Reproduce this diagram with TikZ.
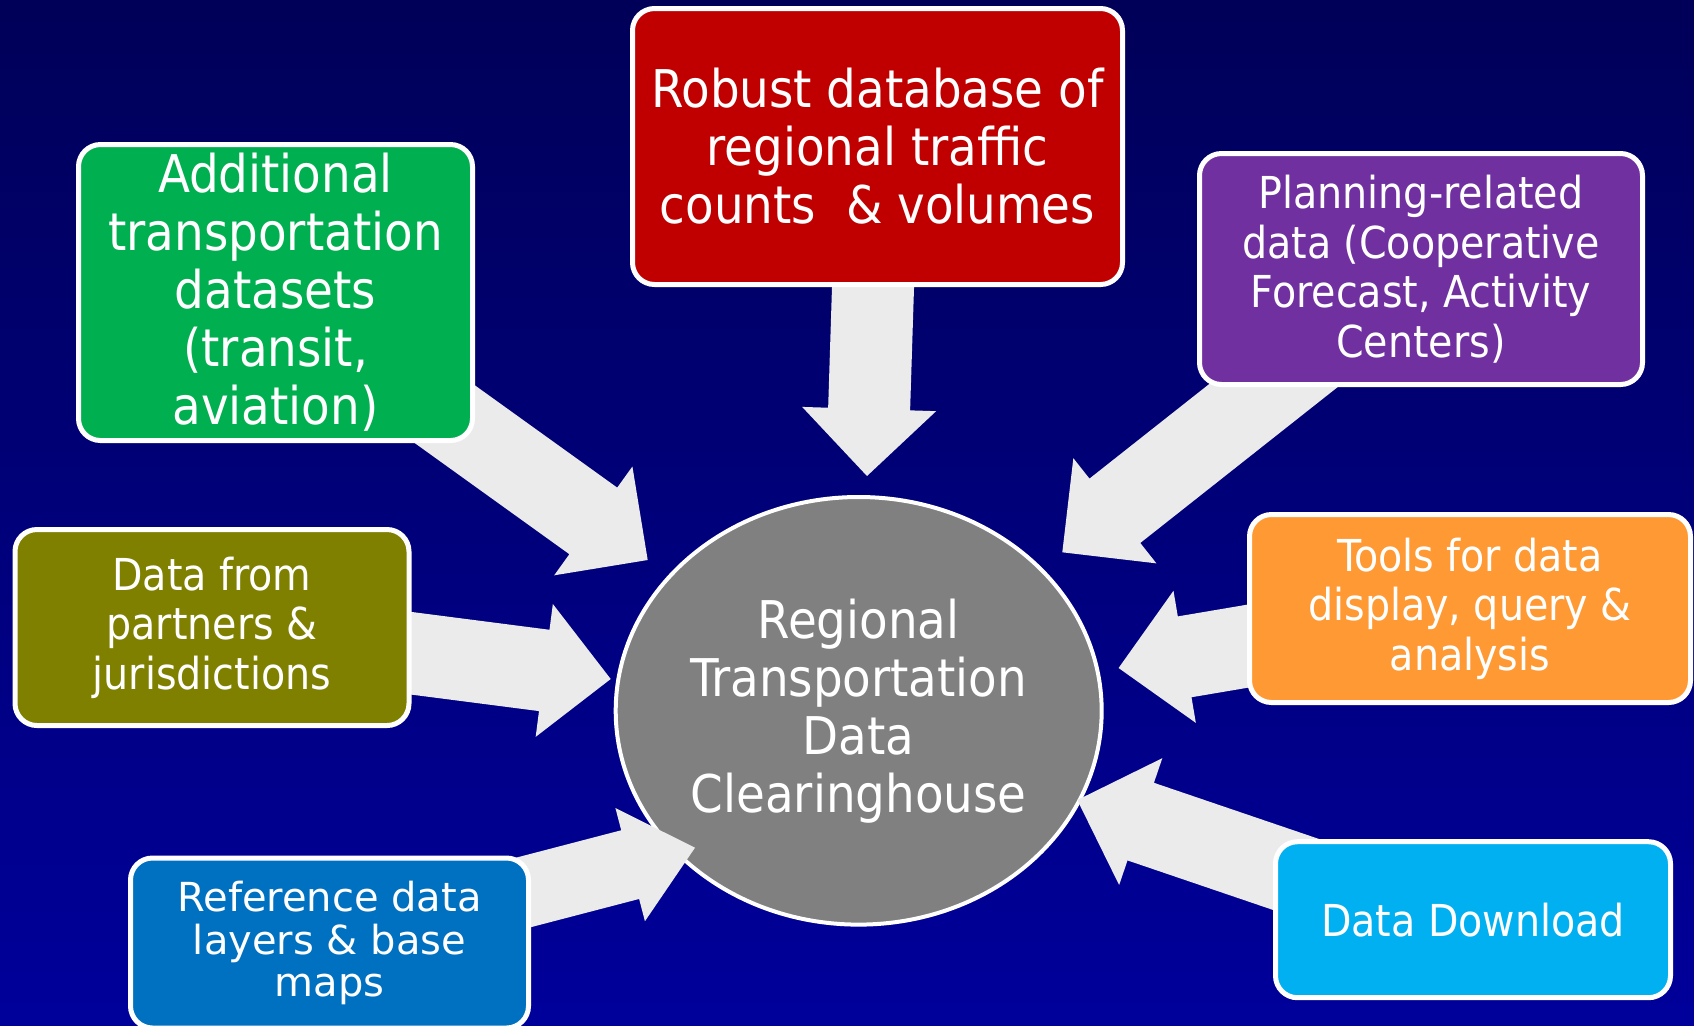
\documentclass[tikz,border=0pt]{standalone}
\usepackage{fontspec}
\setmainfont{DejaVu Sans Condensed}
\newfontfamily\wideface{DejaVu Sans}
\usepackage{tikz}
\usetikzlibrary{calc,shapes.geometric}
\usepackage{xcolor}
\definecolor{bgtop}{RGB}{0,0,88}
\definecolor{bgbot}{RGB}{0,0,155}
\definecolor{arrowgray}{RGB}{235,235,235}
\definecolor{hubgray}{RGB}{128,128,128}
\definecolor{trafficred}{RGB}{192,0,0}
\definecolor{transitgreen}{RGB}{0,176,80}
\definecolor{planpurple}{RGB}{112,48,160}
\definecolor{partnerolive}{RGB}{128,128,0}
\definecolor{toolsorange}{RGB}{255,153,51}
\definecolor{refblue}{RGB}{0,112,192}
\definecolor{downloadcyan}{RGB}{0,176,240}

\pgfdeclarelayer{back}
\pgfdeclarelayer{arrows}
\pgfsetlayers{back,arrows,main}

% block arrow: start, tip, half shaft width, half head width
\newcommand{\blockarrow}[4]{%
  \coordinate (ba-s) at (#1);
  \coordinate (ba-t) at (#2);
  \coordinate (ba-b) at ($(ba-t)!33.5pt!(ba-s)$);
  \fill[arrowgray] ($(ba-s)!#3!90:(ba-t)$) -- ($(ba-b)!#3!-90:(ba-s)$)
    -- ($(ba-b)!#4!-90:(ba-s)$) -- (ba-t) -- ($(ba-b)!#4!90:(ba-s)$)
    -- ($(ba-b)!#3!90:(ba-s)$) -- ($(ba-s)!#3!-90:(ba-t)$) -- cycle;
}

\begin{document}
\begin{tikzpicture}[x=0.5pt,y=-0.5pt,
    box/.style={draw=white, line width=2.5pt, rounded corners=11pt, text=white, align=center, inner sep=0pt},
    bigtext/.style={font=\fontsize{26pt}{29pt}\selectfont},
    midtext/.style={font=\fontsize{22pt}{24.75pt}\selectfont}]
    \useasboundingbox (0,0) rectangle (1694,1025);

    \begin{pgfonlayer}{back}
        \shade[top color=bgtop, bottom color=bgbot] (0,0) rectangle (1694,1025);
        \node[ellipse, draw=white, line width=2pt, fill=hubgray, text=white, align=center, bigtext,
            inner sep=0pt, minimum width=243pt, minimum height=213.8pt] (hub) at (858.7,710.8)
            {Regional\\Transportation\\Data\\Clearinghouse};
    \end{pgfonlayer}

    % boxes round the hub
    \node[box, bigtext, fill=trafficred, minimum width=245pt, minimum height=138pt] (trafficbox) at (877.5,146.5)
        {Robust database of\\regional traffic\\counts\ \ \& volumes};
    \node[box, bigtext, fill=transitgreen, minimum width=197pt, minimum height=148pt] (transitbox) at (275.5,292.5)
        {Additional\\transportation\\datasets\\(transit,\\aviation)};
    \node[box, midtext, fill=planpurple, minimum width=221.5pt, minimum height=115.5pt] (planbox) at (1421,269)
        {Planning-related\\data (Cooperative\\Forecast, Activity\\Centers)};
    \node[box, midtext, fill=partnerolive, minimum width=197pt, minimum height=98pt] (partnerbox) at (212,627.5)
        {Data from\\partners \&\\jurisdictions};
    \node[box, midtext, fill=toolsorange, minimum width=220.5pt, minimum height=94pt] (toolsbox) at (1470,608.5)
        {Tools for data\\display, query \&\\analysis};
    \node[box, font=\wideface\fontsize{20pt}{21.2pt}\selectfont, fill=refblue, minimum width=199pt, minimum height=85pt] (refbox) at (329.5,943)
        {Reference data\\layers \& base\\maps};
    \node[box, midtext, fill=downloadcyan, minimum width=197.5pt, minimum height=78pt] (downloadbox) at (1473,919.7)
        {Data Download};

    % arrow tips at the hub
    \coordinate (traffictip) at (867,476);
    \coordinate (transittip) at (647.7,560);
    \coordinate (plantip) at (1062.3,552.3);
    \coordinate (partnertip) at (610.7,679);
    \coordinate (toolstip) at (1118.6,668);
    \coordinate (reftip) at (695,847.7);
    \coordinate (downloadtip) at (1077.3,800);

    \begin{pgfonlayer}{arrows}
        \blockarrow{trafficbox.center}{traffictip}{20.5pt}{33.5pt}
        \blockarrow{transitbox.center}{transittip}{20.5pt}{33.5pt}
        \blockarrow{planbox.center}{plantip}{20.5pt}{33.5pt}
        \blockarrow{partnerbox.center}{partnertip}{20.5pt}{33.5pt}
        \blockarrow{toolsbox.center}{toolstip}{20.5pt}{33.5pt}
        \blockarrow{refbox.center}{reftip}{17.75pt}{29.25pt}
        \blockarrow{$(downloadbox.center)+(0,15)$}{downloadtip}{20.5pt}{33.5pt}
    \end{pgfonlayer}
\end{tikzpicture}
\end{document}
